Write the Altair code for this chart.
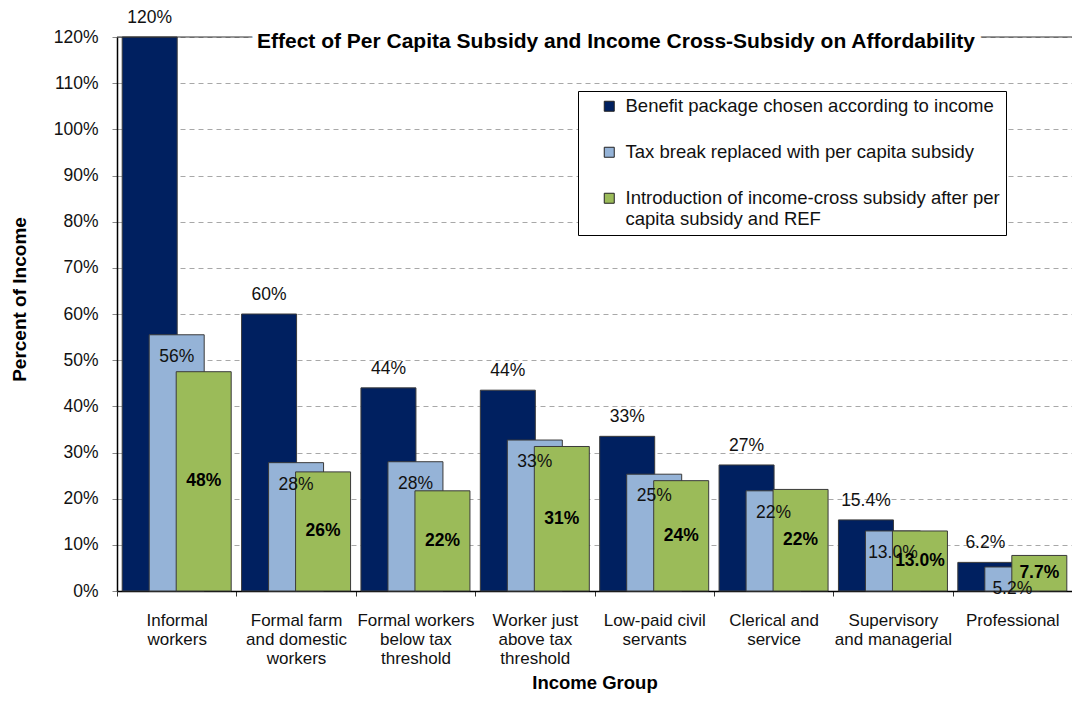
import altair as alt
import pandas as pd

GROUPS = [
    "Informal|workers",
    "Formal farm|and domestic|workers",
    "Formal workers|below tax|threshold",
    "Worker just|above tax|threshold",
    "Low-paid civil|servants",
    "Clerical and|service",
    "Supervisory|and managerial",
    "Professional",
]
SERIES = [
    "Benefit package chosen according to income",
    "Tax break replaced with per capita subsidy",
    "Introduction of income-cross subsidy after per|capita subsidy and REF",
]
COLORS = ["#002060", "#95B3D7", "#9BBB59"]

BENEFIT = [120, 60, 44, 43.5, 33.5, 27.3, 15.4, 6.2]
TAXBREAK = [55.5, 27.8, 28, 32.7, 25.3, 21.7, 13.0, 5.2]
CROSS = [47.5, 25.8, 21.7, 31.3, 23.9, 22.0, 13.0, 7.7]

BENEFIT_LBL = ["120%", "60%", "44%", "44%", "33%", "27%", "15.4%", "6.2%"]
TAXBREAK_LBL = ["56%", "28%", "28%", "33%", "25%", "22%", "13.0%", "5.2%"]
CROSS_LBL = ["48%", "26%", "22%", "31%", "24%", "22%", "13.0%", "7.7%"]

TITLE = "Effect of Per Capita Subsidy and Income Cross-Subsidy on Affordability"
Y_TICKS = list(range(0, 121, 10))

FONT = "Liberation Sans"

rows = []
for s, vals, lbls in zip(SERIES, [BENEFIT, TAXBREAK, CROSS], [BENEFIT_LBL, TAXBREAK_LBL, CROSS_LBL]):
    for g, v, l in zip(GROUPS, vals, lbls):
        rows.append({"group": g, "series": s, "value": v, "label": l, "half": v / 2})
df = pd.DataFrame(rows)

x_enc = alt.X(
    "group:N",
    scale=alt.Scale(domain=GROUPS, paddingInner=0, paddingOuter=0),
    sort=GROUPS,
    axis=alt.Axis(
        title="Income Group",
        labelExpr="split(datum.label, '|')",
        labelAngle=0,
        labelFontSize=17,
        labelLineHeight=19,
        labelPadding=16,
        labelColor="#111",
        tickBand="extent",
        tickSize=5,
        tickColor="#333",
        domainColor="#000",
        domainWidth=1.5,
        titleFontSize=18.5,
        titleFontWeight="bold",
        titleY=91,
        titleBaseline="middle",
        titleColor="#000",
    ),
)
y_scale = alt.Scale(domain=[0, 120], nice=False)
y_axis = alt.Axis(
    title="Percent of Income",
    values=Y_TICKS,
    labelExpr="datum.value + '%'",
    labelFontSize=17.5,
    labelPadding=14,
    labelColor="#111",
    tickSize=5,
    tickColor="#888",
    domainColor="#000",
    domainWidth=1.5,
    grid=True,
    gridColor="#a8a8a8",
    gridDash=[5, 4],
    gridWidth=1,
    titleFontSize=19,
    titleFontWeight="bold",
    titleX=-98,
    titleY=262,
    titleBaseline="middle",
    titleAlign="center",
    titleColor="#000",
)

color_enc = alt.Color(
    "series:N",
    scale=alt.Scale(domain=SERIES, range=COLORS),
    legend=alt.Legend(
        title=None,
        orient="none",
        legendX=461,
        legendY=54,
        direction="vertical",
        strokeColor="#000",
        fillColor="#fff",
        padding=6,
        symbolType="square",
        symbolSize=100,
        symbolStrokeColor="#222",
        symbolStrokeWidth=1,
        symbolOffset=16,
        labelOffset=7,
        labelFontSize=18.5,
        labelLimit=600,
        labelColor="#111",
        labelExpr="split(datum.label, '|')",
        rowPadding=27,
    ),
)

base = alt.Chart(df)
offsets = [-27, 0, 27]

layers = []
for s, off in zip(SERIES, offsets):
    layers.append(
        base.transform_filter(alt.datum.series == s)
        .mark_bar(size=55, xOffset=off, stroke="#3a3a3a", strokeWidth=1)
        .encode(x=x_enc, y=alt.Y("value:Q", scale=y_scale, axis=y_axis), color=color_enc)
    )

top_rule = alt.Chart(pd.DataFrame({"v": [120]})).mark_rule(color="#333", strokeWidth=1.2).encode(
    y=alt.Y("v:Q", scale=y_scale)
)

lbl_dark = (
    base.transform_filter(alt.datum.series == SERIES[0])
    .mark_text(dx=-27, dy=-19, fontSize=17.5, color="#111", baseline="middle")
    .encode(x=x_enc, y=alt.Y("value:Q", scale=y_scale), text="label:N")
)
lbl_light = (
    base.transform_filter(alt.datum.series == SERIES[1])
    .mark_text(dx=0, dy=22, fontSize=17.5, color="#111", baseline="middle")
    .encode(x=x_enc, y=alt.Y("value:Q", scale=y_scale), text="label:N")
)
lbl_green = (
    base.transform_filter(alt.datum.series == SERIES[2])
    .mark_text(dx=27, fontSize=17.5, fontWeight="bold", color="#000", baseline="middle")
    .encode(x=x_enc, y=alt.Y("half:Q", scale=y_scale), text="label:N")
)

title_df = pd.DataFrame({"t": [TITLE]})
title_halo = alt.Chart(title_df).mark_text(
    fontSize=21, fontWeight="bold", color="#fff", stroke="#fff", strokeWidth=12,
    strokeJoin="round", align="center", baseline="middle"
).encode(x=alt.value(499), y=alt.value(5), text="t:N")
title_text = alt.Chart(title_df).mark_text(
    fontSize=21, fontWeight="bold", color="#000", align="center", baseline="middle"
).encode(x=alt.value(499), y=alt.value(5), text="t:N")

chart = (
    alt.layer(*layers, top_rule, lbl_dark, lbl_light, lbl_green, title_halo, title_text)
    .properties(
        width=955,
        height=554,
        autosize=alt.AutoSizeParams(type="none"),
        padding={"left": 109, "top": 29, "right": 0, "bottom": 102},
    )
    .configure(font=FONT)
    .configure_view(stroke=None)
)

chart.save("out.html", embed_options={"renderer": "svg", "actions": False})
